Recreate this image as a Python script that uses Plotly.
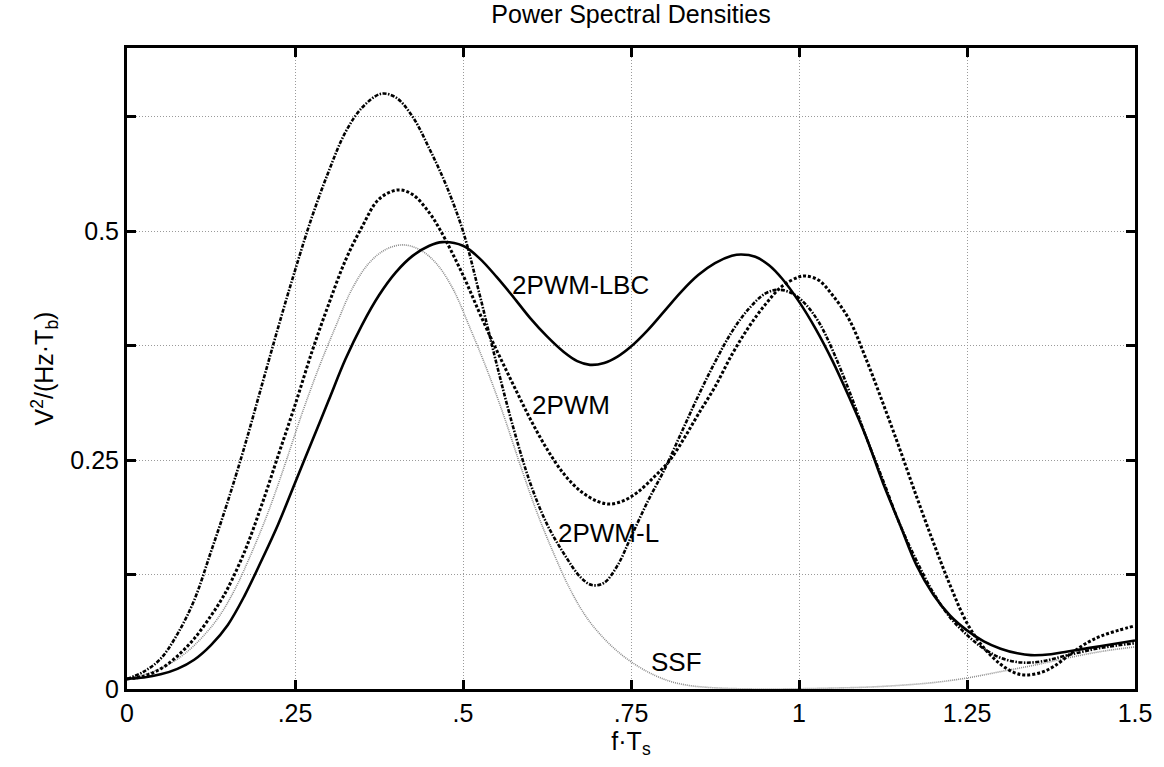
import plotly.graph_objects as go

# ---- data ----
f_lbc = [0, 0.025, 0.05, 0.075, 0.1, 0.125, 0.15, 0.175, 0.2, 0.225, 0.25, 0.275, 0.3, 0.325, 0.35,
         0.375, 0.4, 0.425, 0.45, 0.469, 0.5, 0.525, 0.55, 0.575, 0.6, 0.625, 0.65, 0.67, 0.689, 0.71,
         0.73, 0.75, 0.775, 0.8, 0.825, 0.85, 0.875, 0.9, 0.914, 0.935, 0.955, 0.975, 1.0, 1.025, 1.05,
         1.075, 1.1, 1.125, 1.15, 1.175, 1.2, 1.225, 1.25, 1.275, 1.3, 1.325, 1.345, 1.375, 1.4, 1.45, 1.5]
v_lbc = [0.011, 0.0125, 0.016, 0.022, 0.032, 0.048, 0.07, 0.102, 0.14, 0.18, 0.225, 0.27, 0.315, 0.36,
         0.398, 0.43, 0.455, 0.473, 0.484, 0.488, 0.484, 0.47, 0.45, 0.428, 0.405, 0.385, 0.368, 0.358,
         0.354, 0.356, 0.363, 0.374, 0.392, 0.413, 0.434, 0.452, 0.465, 0.473, 0.4745, 0.472, 0.463,
         0.448, 0.423, 0.393, 0.358, 0.318, 0.275, 0.225, 0.18, 0.135, 0.103, 0.08, 0.064, 0.052, 0.044,
         0.039, 0.037, 0.038, 0.041, 0.047, 0.053]

f_pwm = [0, 0.025, 0.05, 0.075, 0.1, 0.125, 0.14, 0.15, 0.175, 0.2, 0.225, 0.25, 0.276, 0.3, 0.325,
         0.35, 0.375, 0.403, 0.425, 0.45, 0.467, 0.5, 0.525, 0.55, 0.575, 0.6, 0.625, 0.65, 0.675, 0.7,
         0.719, 0.74, 0.76, 0.785, 0.808, 0.83, 0.85, 0.875, 0.9, 0.925, 0.95, 0.975, 1.0, 1.011, 1.03,
         1.05, 1.075, 1.1, 1.125, 1.15, 1.175, 1.2, 1.225, 1.25, 1.275, 1.3, 1.32, 1.337, 1.36, 1.38,
         1.407, 1.43, 1.45, 1.475, 1.5]
v_pwm = [0.011, 0.014, 0.022, 0.036, 0.055, 0.08, 0.097, 0.11, 0.15, 0.2, 0.255, 0.31, 0.37, 0.42,
         0.468, 0.505, 0.535, 0.545, 0.54, 0.52, 0.50, 0.452, 0.41, 0.37, 0.332, 0.295, 0.262, 0.235,
         0.216, 0.205, 0.202, 0.206, 0.215, 0.232, 0.25, 0.275, 0.30, 0.33, 0.365, 0.395, 0.42, 0.44,
         0.45, 0.451, 0.446, 0.43, 0.403, 0.36, 0.312, 0.262, 0.21, 0.16, 0.113, 0.072, 0.045, 0.027,
         0.018, 0.0153, 0.018, 0.025, 0.04, 0.051, 0.058, 0.064, 0.069]

f_pwml = [0, 0.025, 0.05, 0.075, 0.1, 0.125, 0.15, 0.175, 0.2, 0.225, 0.25, 0.275, 0.3, 0.325, 0.35,
          0.378, 0.4, 0.425, 0.45, 0.475, 0.5, 0.525, 0.55, 0.575, 0.6, 0.625, 0.65, 0.675, 0.692, 0.71,
          0.73, 0.75, 0.775, 0.8, 0.825, 0.85, 0.875, 0.9, 0.925, 0.95, 0.969, 0.99, 1.01, 1.03, 1.05,
          1.075, 1.1, 1.125, 1.15, 1.175, 1.2, 1.225, 1.25, 1.275, 1.3, 1.33, 1.36, 1.4, 1.45, 1.5]
v_pwml = [0.011, 0.019, 0.033, 0.06, 0.097, 0.15, 0.205, 0.265, 0.33, 0.395, 0.457, 0.515, 0.565,
          0.608, 0.635, 0.65, 0.646, 0.625, 0.59, 0.55, 0.50, 0.43, 0.355, 0.285, 0.225, 0.18, 0.148,
          0.122, 0.1135, 0.116, 0.135, 0.166, 0.205, 0.24, 0.28, 0.32, 0.357, 0.39, 0.415, 0.432, 0.436,
          0.432, 0.42, 0.40, 0.37, 0.325, 0.275, 0.228, 0.18, 0.14, 0.105, 0.078, 0.059, 0.044, 0.034,
          0.029, 0.03, 0.037, 0.045, 0.05]

f_ssf = [0, 0.035, 0.06, 0.085, 0.11, 0.135, 0.16, 0.185, 0.21, 0.235, 0.26, 0.285, 0.31, 0.335, 0.36,
         0.385, 0.41, 0.435, 0.46, 0.485, 0.51, 0.535, 0.56, 0.585, 0.61, 0.635, 0.66, 0.685, 0.71,
         0.735, 0.76, 0.785, 0.81, 0.835, 0.86, 0.9, 0.95, 1.0, 1.05, 1.1, 1.15, 1.2, 1.25, 1.3, 1.35,
         1.4, 1.45, 1.5]
v_ssf = [0.011, 0.018, 0.026, 0.038, 0.055, 0.077, 0.108, 0.148, 0.193, 0.245, 0.3, 0.35, 0.395, 0.437,
         0.465, 0.48, 0.485, 0.48, 0.465, 0.437, 0.395, 0.35, 0.3, 0.245, 0.193, 0.148, 0.108, 0.077,
         0.055, 0.038, 0.025, 0.015, 0.008, 0.004, 0.002, 0.0005, 0.0, 0.0003, 0.001, 0.002, 0.004,
         0.007, 0.012, 0.019, 0.026, 0.034, 0.041, 0.046]

labels = ["2PWM-LBC", "2PWM", "2PWM-L", "SSF"]
label_f = [0.675, 0.660, 0.717, 0.8175]
label_v = [0.441, 0.310, 0.170, 0.0295]

x_tickvals = [0, 0.25, 0.5, 0.75, 1.0, 1.25, 1.5]
x_ticktext = ["0", ".25", ".5", ".75", "1", "1.25", "1.5"]
y_tickvals = [0, 0.125, 0.25, 0.375, 0.5, 0.625]
y_ticktext = ["0", "", "0.25", "", "0.5", ""]

FONT = "Liberation Sans, Arial, Helvetica, sans-serif"
fs = 25

fig = go.Figure()
fig.add_trace(go.Scatter(x=f_ssf, y=v_ssf, mode="lines",
                         line=dict(color="#8c8c8c", width=1.6, dash="1px,1px", shape="spline", smoothing=1.0),
                         name="SSF"))
fig.add_trace(go.Scatter(x=f_pwml, y=v_pwml, mode="lines",
                         line=dict(color="black", width=2.6, dash="4px,1.5px,1.5px,1.5px", shape="spline", smoothing=1.0),
                         name="2PWM-L"))
fig.add_trace(go.Scatter(x=f_pwm, y=v_pwm, mode="lines",
                         line=dict(color="black", width=3, dash="3px,2px", shape="spline", smoothing=1.0),
                         name="2PWM"))
fig.add_trace(go.Scatter(x=f_lbc, y=v_lbc, mode="lines",
                         line=dict(color="black", width=2.6, shape="spline", smoothing=1.0),
                         name="2PWM-LBC"))

for t, fx, vy in zip(labels, label_f, label_v):
    fig.add_annotation(x=fx, y=vy, text=t, showarrow=False,
                       font=dict(size=26, color="black", family=FONT),
                       xanchor="center", yanchor="middle")

axis_common = dict(showline=True, linecolor="black", linewidth=3, mirror="allticks", ticks="inside",
                   ticklen=9, tickwidth=3, tickcolor="black", showgrid=True, gridcolor="#9a9a9a",
                   griddash="1px,2px", gridwidth=1, zeroline=False,
                   tickfont=dict(size=fs, color="black", family=FONT))

fig.update_xaxes(range=[0, 1.5], tickvals=x_tickvals, ticktext=x_ticktext,
                 title=dict(text="f·T<sub>s</sub>", font=dict(size=fs, color="black", family=FONT), standoff=2),
                 **axis_common)
fig.update_yaxes(range=[0, 0.7], tickvals=y_tickvals, ticktext=y_ticktext,
                 title=dict(text="V<sup>2</sup>/(Hz·T<sub>b</sub>)", font=dict(size=fs, color="black", family=FONT), standoff=10),
                 **axis_common)

fig.update_layout(
    width=1164, height=767,
    margin=dict(l=127, r=26, t=48, b=78),
    plot_bgcolor="white", paper_bgcolor="white",
    showlegend=False,
    title=dict(text="Power Spectral Densities", xref="paper", x=0.5, xanchor="center",
               y=0.982, yanchor="middle",
               font=dict(size=fs, color="black", family=FONT)),
)

fig.write_html("out.html")
